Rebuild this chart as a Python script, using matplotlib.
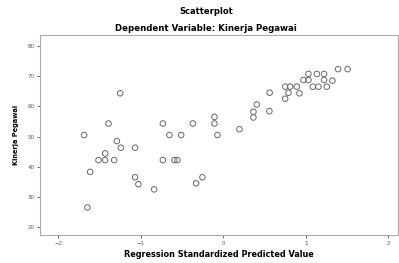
import matplotlib
matplotlib.use("Agg")
import matplotlib.pyplot as plt

title = "Scatterplot"
subtitle = "Dependent Variable: Kinerja Pegawai"
x_label = "Regression Standardized Predicted Value"
y_label = "Kinerja Pegawai"
x_ticks = [-2, -1, 0, 1, 2]
y_ticks = [20, 30, 40, 50, 60, 70, 80]

predicted = [-1.685, -1.645, -1.612, -1.511, -1.430, -1.430, -1.390, -1.321, -1.288,
             -1.248, -1.240, -1.067, -1.067, -1.027, -0.836, -0.731, -0.731, -0.651,
             -0.590, -0.554, -0.509, -0.367, -0.327, -0.251, -0.105, -0.105, -0.069,
             0.198, 0.367, 0.367, 0.408, 0.561, 0.564, 0.752, 0.752, 0.812, 0.893,
             0.792, 0.925, 0.973, 1.034, 1.034, 1.136, 1.224, 1.224, 1.325, 1.087,
             1.155, 1.257, 1.394, 1.509]
kinerja = [50.5, 26.5, 38.3, 42.2, 42.2, 44.4, 54.3, 42.2, 48.5,
           64.3, 46.3, 46.3, 36.5, 34.2, 32.5, 54.3, 42.2, 50.5,
           42.2, 42.2, 50.5, 54.3, 34.5, 36.5, 56.5, 54.3, 50.5,
           52.4, 56.3, 58.2, 60.6, 58.4, 64.5, 62.5, 66.5, 66.5, 66.5,
           64.5, 64.3, 68.7, 68.7, 70.7, 70.7, 70.7, 68.7, 68.5, 66.5,
           66.5, 66.5, 72.3, 72.3]

fig = plt.figure(figsize=(3.99, 2.63), dpi=100)
ax = fig.add_axes([40/399, 1-235/263, 358/399, 200/263])
ax.scatter(predicted, kinerja, s=16, facecolors="none", edgecolors="#666666", linewidths=0.7)
ax.set_xlim(-2.22, 2.12)
ax.set_ylim(17.4, 83.6)
ax.set_xticks(x_ticks)
ax.set_yticks(y_ticks)
ax.tick_params(labelsize=4, length=2.5, width=0.6, colors="#555555", pad=1.5)
for s in ax.spines.values():
    s.set_color("#aaaaaa")
    s.set_linewidth(0.8)
ax.set_xlabel(x_label, fontsize=5.9, fontweight="bold", labelpad=3)
ax.set_ylabel(y_label, fontsize=4.8, fontweight="bold", labelpad=6)
fig.text(206/399, 1-12/263, title, ha="center", va="center", fontsize=6, fontweight="bold")
fig.text(206/399, 1-29/263, subtitle, ha="center", va="center", fontsize=6.2, fontweight="bold")
fig.savefig("out.png", dpi=100)
